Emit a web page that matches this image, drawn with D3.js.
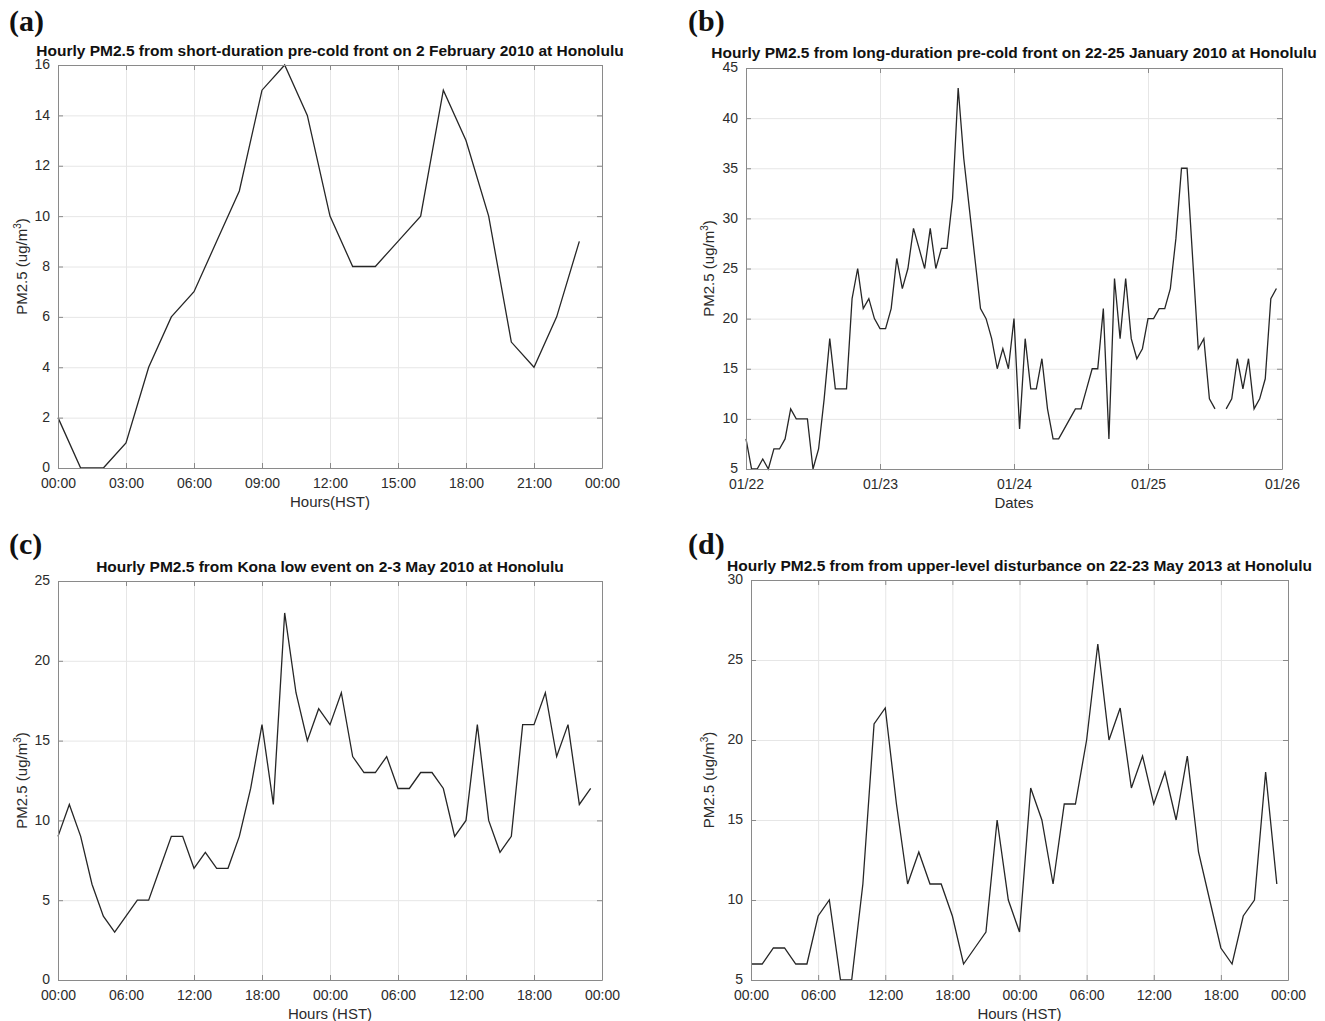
<!DOCTYPE html>
<html><head><meta charset="utf-8">
<script src="https://cdn.jsdelivr.net/npm/d3@7"></script>
<style>body{margin:0;background:#fff}svg{display:block}</style>
</head><body>
<svg id="c" width="1325" height="1021"></svg>
<script>
// ---- data ----
const hoursA = d3.range(0, 24);
const valuesA = [2,0,0,1,4,6,7,9,11,15,16,14,10,8,8,9,10,15,13,10,5,4,6,9];
const xTicksA = [0,3,6,9,12,15,18,21,24];
const xLabelsA = ["00:00","03:00","06:00","09:00","12:00","15:00","18:00","21:00","00:00"];
const yTicksA = [0,2,4,6,8,10,12,14,16];

const hoursB = d3.range(0, 96);
const valuesB = [8,5,5,6,5,7,7,8,11,10,10,10,5,7,12,18,13,13,13,22,25,21,22,20,
  19,19,21,26,23,25,29,27,25,29,25,27,27,32,43,36,31,26,21,20,18,15,17,15,
  20,9,18,13,13,16,11,8,8,9,10,11,11,13,15,15,21,8,24,18,24,18,16,17,
  20,20,21,21,23,28,35,35,26,17,18,12,11,null,11,12,16,13,16,11,12,14,22,23];
const xTicksB = [0,24,48,72,96];
const xLabelsB = ["01/22","01/23","01/24","01/25","01/26"];
const yTicksB = [5,10,15,20,25,30,35,40,45];

const hoursC = d3.range(0, 48);
const valuesC = [9,11,9,6,4,3,4,5,5,7,9,9,7,8,7,7,9,12,16,11,23,18,15,17,
  16,18,14,13,13,14,12,12,13,13,12,9,10,16,10,8,9,16,16,18,14,16,11,12];
const xTicks48 = [0,6,12,18,24,30,36,42,48];
const xLabels48 = ["00:00","06:00","12:00","18:00","00:00","06:00","12:00","18:00","00:00"];
const yTicksC = [0,5,10,15,20,25];

const hoursD = d3.range(0, 48);
const valuesD = [6,6,7,7,6,6,9,10,5,5,11,21,22,16,11,13,11,11,9,6,7,8,15,10,
  8,17,15,11,16,16,20,26,20,22,17,19,16,18,15,19,13,10,7,6,9,10,18,11];
const yTicksD = [5,10,15,20,25,30];

const panels = [
  {tag:"(a)", tagX:9, tagY:31, title:"Hourly PM2.5 from short-duration pre-cold front on 2 February 2010 at Honolulu", titleY:56,
   l:58, r:602, t:65, b:468, xd:[0,24], yd:[0,16], xs:hoursA, ys:valuesA, xt:xTicksA, xl:xLabelsA, yt:yTicksA, xlab:"Hours(HST)", ylabX:27},
  {tag:"(b)", tagX:688, tagY:31, title:"Hourly PM2.5 from long-duration pre-cold front on 22-25 January 2010 at Honolulu", titleY:58,
   l:746, r:1282, t:68, b:469, xd:[0,96], yd:[5,45], xs:hoursB, ys:valuesB, xt:xTicksB, xl:xLabelsB, yt:yTicksB, xlab:"Dates", ylabX:714},
  {tag:"(c)", tagX:9, tagY:554, title:"Hourly PM2.5 from Kona low event on 2-3 May 2010 at Honolulu", titleY:572,
   l:58, r:602, t:581, b:980, xd:[0,48], yd:[0,25], xs:hoursC, ys:valuesC, xt:xTicks48, xl:xLabels48, yt:yTicksC, xlab:"Hours (HST)", ylabX:27},
  {tag:"(d)", tagX:688, tagY:554, title:"Hourly PM2.5 from from upper-level disturbance on 22-23 May 2013 at Honolulu", titleY:571,
   l:751, r:1288, t:580, b:980, xd:[0,48], yd:[5,30], xs:hoursD, ys:valuesD, xt:xTicks48, xl:xLabels48, yt:yTicksD, xlab:"Hours (HST)", ylabX:714}
];

const svg = d3.select("#c");
const FONT = "'Liberation Sans', Arial, Helvetica, sans-serif";
const axisCol = "#8a8a8a", gridCol = "#e6e6e6", textCol = "#2b2b2b";

panels.forEach(p => {
  const x = d3.scaleLinear().domain(p.xd).range([p.l, p.r]);
  const y = d3.scaleLinear().domain(p.yd).range([p.b, p.t]);
  const g = svg.append("g");

  // panel tag
  g.append("text").attr("x", p.tagX).attr("y", p.tagY)
    .attr("font-family", "'Liberation Serif', 'Times New Roman', serif")
    .attr("font-weight", "bold").attr("font-size", 30).attr("fill", "#111").text(p.tag);
  // title
  g.append("text").attr("x", (p.l + p.r) / 2).attr("y", p.titleY)
    .attr("text-anchor", "middle").attr("font-family", FONT).attr("font-weight", "bold")
    .attr("font-size", 15.5).attr("fill", "#111").text(p.title);

  // gridlines
  g.append("g").attr("transform", `translate(0,${p.b})`)
    .call(d3.axisBottom(x).tickValues(p.xt).tickSize(-(p.b - p.t)).tickFormat(""))
    .call(s => { s.select(".domain").remove(); s.selectAll("line").attr("stroke", gridCol); });
  g.append("g").attr("transform", `translate(${p.l},0)`)
    .call(d3.axisLeft(y).tickValues(p.yt).tickSize(-(p.r - p.l)).tickFormat(""))
    .call(s => { s.select(".domain").remove(); s.selectAll("line").attr("stroke", gridCol); });

  // data line
  const line = d3.line().defined(d => d[1] !== null).x(d => x(d[0])).y(d => y(d[1]));
  g.append("path").datum(p.xs.map((h, i) => [h, p.ys[i]]))
    .attr("d", line).attr("fill", "none").attr("stroke", "#262626").attr("stroke-width", 1.3)
    .attr("stroke-linejoin", "miter");

  // axes with inward ticks
  const styleAxis = s => {
    s.select(".domain").attr("stroke", axisCol);
    s.selectAll(".tick line").attr("stroke", axisCol);
    s.selectAll("text").attr("fill", textCol).attr("font-family", FONT).attr("font-size", 14);
  };
  g.append("g").attr("transform", `translate(0,${p.b})`)
    .call(d3.axisBottom(x).tickValues(p.xt).tickSizeInner(-5).tickSizeOuter(0).tickPadding(10)
      .tickFormat((d, i) => p.xl[i])).call(styleAxis);
  g.append("g").attr("transform", `translate(0,${p.t})`)
    .call(d3.axisTop(x).tickValues(p.xt).tickSizeInner(-5).tickSizeOuter(0).tickFormat("")).call(styleAxis);
  g.append("g").attr("transform", `translate(${p.l},0)`)
    .call(d3.axisLeft(y).tickValues(p.yt).tickSizeInner(-5).tickSizeOuter(0).tickPadding(8)).call(styleAxis)
    .call(s => s.selectAll("text").attr("dy", "0.28em"));
  g.append("g").attr("transform", `translate(${p.r},0)`)
    .call(d3.axisRight(y).tickValues(p.yt).tickSizeInner(-5).tickSizeOuter(0).tickFormat("")).call(styleAxis);

  // axis labels
  g.append("text").attr("x", (p.l + p.r) / 2).attr("y", p.b + 39)
    .attr("text-anchor", "middle").attr("font-family", FONT).attr("font-size", 15)
    .attr("fill", textCol).text(p.xlab);
  const yl = g.append("text").attr("transform", `translate(${p.ylabX},${(p.t + p.b) / 2}) rotate(-90)`)
    .attr("text-anchor", "middle").attr("font-family", FONT).attr("font-size", 15).attr("fill", textCol);
  yl.append("tspan").text("PM2.5 (ug/m");
  yl.append("tspan").attr("font-size", 10).attr("dy", -6).text("3");
  yl.append("tspan").attr("dy", 6).text(")");
});
</script>
</body></html>
